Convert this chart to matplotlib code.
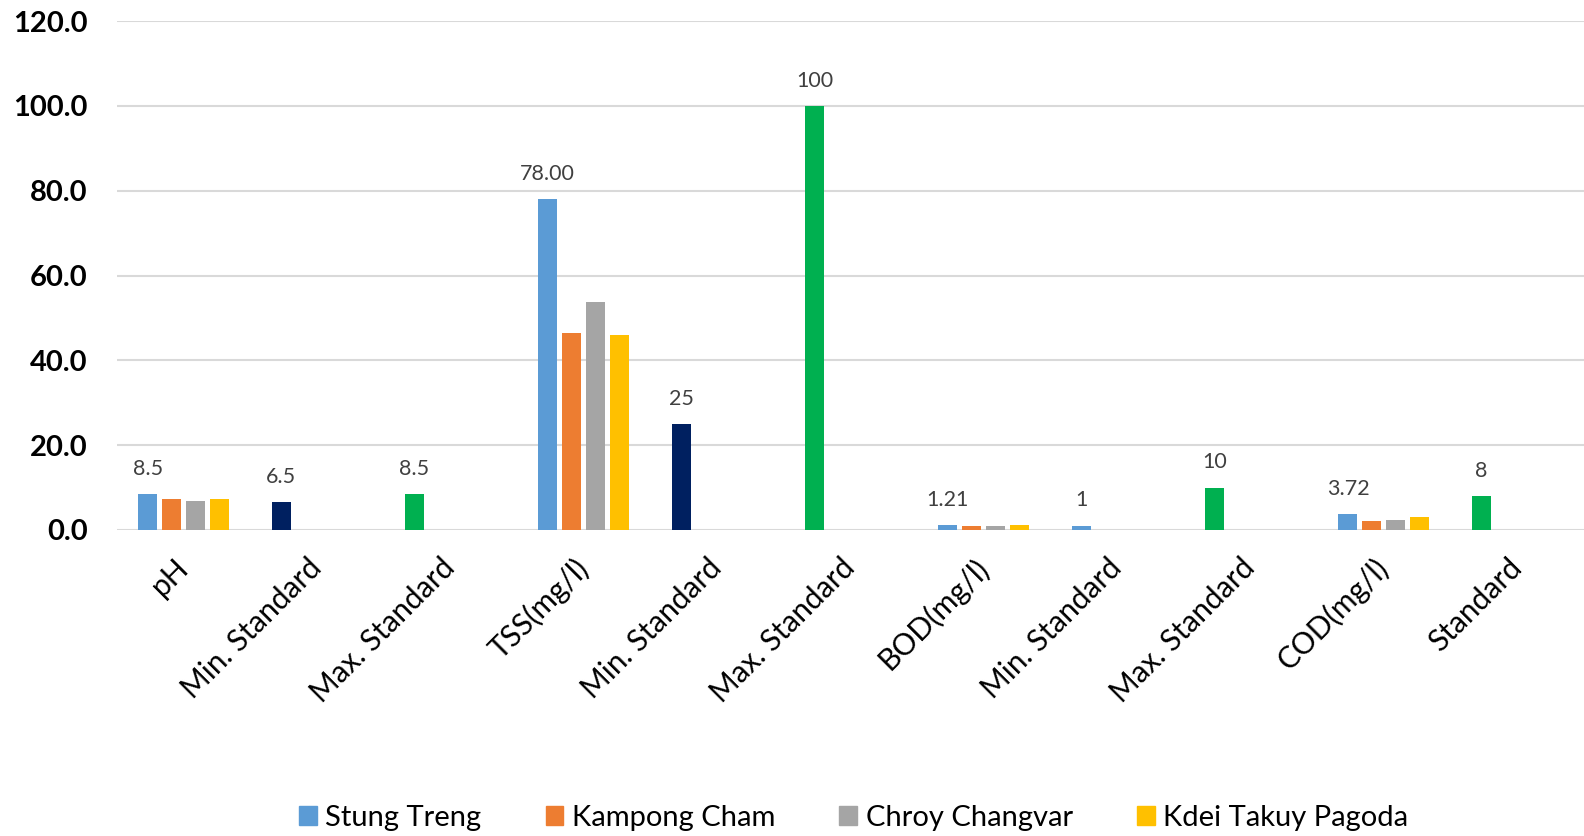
import numpy as np
import matplotlib.pyplot as plt

plt.rcParams['font.family'] = ['Lato', 'DejaVu Sans']

categories = ['pH', 'Min. Standard', 'Max. Standard', 'TSS(mg/l)', 'Min. Standard',
              'Max. Standard', 'BOD(mg/l)', 'Min. Standard', 'Max. Standard',
              'COD(mg/l)', 'Standard']

nan = np.nan
# first series also carries the standard limits
stung_treng = [8.5, 6.5, 8.5, 78.0, 25, 100, 1.21, 1, 10, 3.72, 8]
kampong_cham = [7.4, nan, nan, 46.5, nan, nan, 0.85, nan, nan, 2.1, nan]
chroy_changvar = [6.9, nan, nan, 53.8, nan, nan, 0.95, nan, nan, 2.45, nan]
kdei_takuy = [7.3, nan, nan, 46.0, nan, nan, 1.15, nan, nan, 3.1, nan]
label_decimals = [1, 1, 1, 2, 0, 0, 2, 0, 0, 2, 0]

series_names = ['Stung Treng', 'Kampong Cham', 'Chroy Changvar', 'Kdei Takuy Pagoda']
series_colors = ['#5B9BD5', '#ED7D31', '#A5A5A5', '#FFC000']
# per-point colours of the first series (standard limits highlighted)
point_colors = ['#5B9BD5', '#002060', '#00B050', '#5B9BD5', '#002060', '#00B050',
                '#5B9BD5', '#5B9BD5', '#00B050', '#5B9BD5', '#00B050']

fig = plt.figure(figsize=(15.84, 8.36), dpi=100)
ax = fig.add_axes([117 / 1584, 1 - 530 / 836, (1584 - 117) / 1584, (530 - 21) / 836])

x = np.arange(len(categories))
width = 0.142
step = 0.18
all_series = [stung_treng, kampong_cham, chroy_changvar, kdei_takuy]
bars_list = []
for i, (vals, name, col) in enumerate(zip(all_series, series_names, series_colors)):
    colors = point_colors if i == 0 else col
    b = ax.bar(x + (i - 1.5) * step, vals, width, color=colors, label=name, zorder=3)
    bars_list.append(b)

# data labels on the first series
for rect, v, d in zip(bars_list[0], stung_treng, label_decimals):
    ax.annotate(f'{v:.{d}f}', (rect.get_x() + rect.get_width() / 2, v),
                xytext=(0, 11), textcoords='offset points', ha='center', va='bottom',
                fontsize=15.5, color='#404040')

ax.set_xlim(-0.5, len(categories) - 0.5)
ax.set_ylim(0, 120)
ax.set_yticks(np.arange(0, 121, 20))
ax.set_yticklabels([f'{t:.1f}' for t in np.arange(0, 121, 20)], fontsize=21, fontweight='bold')
ax.set_xticks(x)
ax.set_xticklabels(categories, rotation=45, ha='right', va='center', rotation_mode='anchor',
                   fontsize=21.5, color='#000000')
ax.tick_params(axis='x', length=0, pad=24)
ax.tick_params(axis='y', length=0, pad=21)
ax.grid(axis='y', color='#D9D9D9', linewidth=1.5, zorder=0)
for s in ax.spines.values():
    s.set_visible(False)

handles = [plt.Rectangle((0, 0), 1, 1, color=c) for c in series_colors]
fig.legend(handles, series_names, loc='center', bbox_to_anchor=(0.539, 1 - 818 / 836),
           ncol=4, frameon=False, fontsize=21, handlelength=0.6, handleheight=0.6,
           handletextpad=0.3, columnspacing=2.2)

fig.savefig('out.png', dpi=100)
